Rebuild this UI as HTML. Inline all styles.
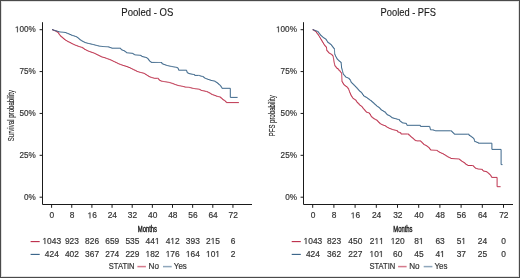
<!DOCTYPE html>
<html><head><meta charset="utf-8"><style>
html,body{margin:0;padding:0;background:#fff;}
body{width:520px;height:278px;overflow:hidden;}
svg{display:block;will-change:transform;}
text{font-family:"Liberation Sans",sans-serif;}
.t{font-size:8.4px;fill:#333333;stroke:#333333;stroke-width:0.18px;}
.ti{font-size:10.2px;fill:#1a1a1a;stroke:#1a1a1a;stroke-width:0.12px;}
.c{font-size:8.2px;fill:#1a1a1a;stroke:#1a1a1a;stroke-width:0.12px;}
</style></head><body>
<svg width="520" height="278" viewBox="0 0 520 278" xmlns="http://www.w3.org/2000/svg">
<rect x="0" y="0" width="520" height="278" fill="#fff"/>
<rect x="1.5" y="1.5" width="517" height="275" fill="none" stroke="#e2e2e2" stroke-width="1"/>
<rect x="0.5" y="0.5" width="519" height="277" fill="none" stroke="#4a4a4a" stroke-width="1"/>
<path d="M42.5,22.2V204.5H252" fill="none" stroke="#1a1a1a" stroke-width="1.0"/>
<line x1="39.6" y1="197.20" x2="42.5" y2="197.20" stroke="#1a1a1a" stroke-width="1.0"/>
<text transform="translate(35.80,199.70) scale(0.97,1)" text-anchor="end" class="t" style="font-size:8.4px" >0%</text>
<line x1="39.6" y1="155.32" x2="42.5" y2="155.32" stroke="#1a1a1a" stroke-width="1.0"/>
<text transform="translate(35.80,157.82) scale(0.97,1)" text-anchor="end" class="t" style="font-size:8.4px" >25%</text>
<line x1="39.6" y1="113.45" x2="42.5" y2="113.45" stroke="#1a1a1a" stroke-width="1.0"/>
<text transform="translate(35.80,115.95) scale(0.97,1)" text-anchor="end" class="t" style="font-size:8.4px" >50%</text>
<line x1="39.6" y1="71.57" x2="42.5" y2="71.57" stroke="#1a1a1a" stroke-width="1.0"/>
<text transform="translate(35.80,74.07) scale(0.97,1)" text-anchor="end" class="t" style="font-size:8.4px" >75%</text>
<line x1="39.6" y1="29.70" x2="42.5" y2="29.70" stroke="#1a1a1a" stroke-width="1.0"/>
<text transform="translate(14.96,32.20) scale(0.97,1)" text-anchor="start" class="t" style="font-size:8.4px" > 00%</text><path d="M515,0L696,0L696,1409L530,1409L197,1180L197,1010L515,1237Z" transform="translate(14.96,32.20) scale(0.00398,-0.00410)" fill="#333333" stroke="#333333" stroke-width="0.18" vector-effect="non-scaling-stroke"/>
<line x1="51.60" y1="204.5" x2="51.60" y2="207.8" stroke="#1a1a1a" stroke-width="1.0"/>
<text transform="translate(51.90,218.30) scale(1.0,1)" text-anchor="middle" class="t" style="font-size:8.4px" >0</text>
<line x1="71.75" y1="204.5" x2="71.75" y2="207.8" stroke="#1a1a1a" stroke-width="1.0"/>
<text transform="translate(72.05,218.30) scale(1.0,1)" text-anchor="middle" class="t" style="font-size:8.4px" >8</text>
<line x1="91.90" y1="204.5" x2="91.90" y2="207.8" stroke="#1a1a1a" stroke-width="1.0"/>
<text transform="translate(87.53,218.30) scale(1.0,1)" text-anchor="start" class="t" style="font-size:8.4px" > 6</text><path d="M515,0L696,0L696,1409L530,1409L197,1180L197,1010L515,1237Z" transform="translate(87.53,218.30) scale(0.00410,-0.00410)" fill="#333333" stroke="#333333" stroke-width="0.18" vector-effect="non-scaling-stroke"/>
<line x1="112.05" y1="204.5" x2="112.05" y2="207.8" stroke="#1a1a1a" stroke-width="1.0"/>
<text transform="translate(112.35,218.30) scale(1.0,1)" text-anchor="middle" class="t" style="font-size:8.4px" >24</text>
<line x1="132.20" y1="204.5" x2="132.20" y2="207.8" stroke="#1a1a1a" stroke-width="1.0"/>
<text transform="translate(132.50,218.30) scale(1.0,1)" text-anchor="middle" class="t" style="font-size:8.4px" >32</text>
<line x1="152.35" y1="204.5" x2="152.35" y2="207.8" stroke="#1a1a1a" stroke-width="1.0"/>
<text transform="translate(152.65,218.30) scale(1.0,1)" text-anchor="middle" class="t" style="font-size:8.4px" >40</text>
<line x1="172.50" y1="204.5" x2="172.50" y2="207.8" stroke="#1a1a1a" stroke-width="1.0"/>
<text transform="translate(172.80,218.30) scale(1.0,1)" text-anchor="middle" class="t" style="font-size:8.4px" >48</text>
<line x1="192.65" y1="204.5" x2="192.65" y2="207.8" stroke="#1a1a1a" stroke-width="1.0"/>
<text transform="translate(192.95,218.30) scale(1.0,1)" text-anchor="middle" class="t" style="font-size:8.4px" >56</text>
<line x1="212.80" y1="204.5" x2="212.80" y2="207.8" stroke="#1a1a1a" stroke-width="1.0"/>
<text transform="translate(213.10,218.30) scale(1.0,1)" text-anchor="middle" class="t" style="font-size:8.4px" >64</text>
<line x1="232.95" y1="204.5" x2="232.95" y2="207.8" stroke="#1a1a1a" stroke-width="1.0"/>
<text transform="translate(233.25,218.30) scale(1.0,1)" text-anchor="middle" class="t" style="font-size:8.4px" >72</text>
<text transform="translate(147.30,16.40) scale(0.9546484610309514,1)" text-anchor="middle" class="ti" style="font-size:10.0px" >Pooled - OS</text>
<text x="147.4" y="231.6" text-anchor="middle" class="c" style="font-size:8.6px;stroke-width:0.4px" textLength="19.3" lengthAdjust="spacingAndGlyphs">Months</text>
<text transform="translate(13.9,115.6) rotate(-90)" x="0" y="0" text-anchor="middle" class="c" textLength="51.4" lengthAdjust="spacingAndGlyphs">Survival probability</text>
<path d="M52.00,29.70H52.88V30.07H53.75V30.45H54.62V30.82H55.50V31.20H56.75V32.05H58.00V32.90H58.65V33.77H59.30V34.65H59.95V35.52H60.60V36.40H61.77V37.40H62.93V38.40H64.10V39.40H64.97V39.95H65.85V40.50H66.72V41.05H67.60V41.60H68.73V42.17H69.87V42.73H71.00V43.30H71.88V43.72H72.75V44.15H73.62V44.58H74.50V45.00H75.63V45.43H76.77V45.87H77.90V46.30H78.80V46.57H79.70V46.85H80.60V47.12H81.50V47.40H82.75V48.25H84.00V49.10H84.88V49.55H85.75V50.00H86.62V50.45H87.50V50.90H88.38V51.23H89.25V51.55H90.12V51.88H91.00V52.20H92.13V52.60H93.27V53.00H94.40V53.40H95.28V53.85H96.15V54.30H97.03V54.75H97.90V55.20H99.03V55.77H100.17V56.33H101.30V56.90H102.20V57.13H103.10V57.37H104.00V57.60H104.88V57.92H105.75V58.25H106.62V58.58H107.50V58.90H108.63V59.33H109.77V59.77H110.90V60.20H111.78V60.62H112.65V61.05H113.53V61.48H114.40V61.90H115.53V62.47H116.67V63.03H117.80V63.60H118.67V63.93H119.55V64.25H120.42V64.58H121.30V64.90H122.17V65.20H123.03V65.50H123.90V65.80H124.95V66.10H126.00V66.40H127.00V66.80H128.00V67.20H129.00V67.60H130.00V68.00H130.88V68.45H131.75V68.90H132.62V69.35H133.50V69.80H134.63V70.37H135.77V70.93H136.90V71.50H137.78V71.75H138.65V72.00H139.53V72.25H140.40V72.50H141.53V72.80H142.67V73.10H143.80V73.40H144.67V73.93H145.53V74.47H146.40V75.00H147.27V75.57H148.13V76.13H149.00V76.70H149.87V77.00H150.73V77.30H151.60V77.60H152.47V77.83H153.33V78.07H154.20V78.30H157.50H158.35V79.25H159.20V80.20H160.05V80.65H160.90V81.10H161.78V81.25H162.65V81.40H163.53V81.55H164.40V81.70H165.47V81.88H166.55V82.05H167.62V82.23H168.70V82.40H169.57V82.67H170.43V82.93H171.30V83.20H172.43V83.63H173.57V84.07H174.70V84.50H175.57V84.78H176.45V85.05H177.32V85.32H178.20V85.60H179.30V85.80H180.40V86.00H181.50V86.20H182.63V86.50H183.77V86.80H184.90V87.10H185.78V87.15H186.65V87.20H187.53V87.25H188.40V87.30H189.53V87.60H190.67V87.90H191.80V88.20H192.68V88.35H193.55V88.50H194.43V88.65H195.30V88.80H196.43V88.93H197.57V89.07H198.70V89.20H199.57V89.63H200.43V90.07H201.30V90.50H202.17V90.67H203.03V90.83H203.90V91.00H205.15V91.30H206.40V91.60H207.53V92.17H208.67V92.73H209.80V93.30H210.65V93.85H211.50V94.40H212.62V94.83H213.75V95.25H214.88V95.67H216.00V96.10H216.88V96.32H217.75V96.55H218.62V96.78H219.50V97.00H220.75V98.05H222.00V99.10H222.87V99.70H223.73V100.30H224.60V100.90H225.50V101.75H226.40V102.60H238.90" fill="none" stroke="#bb2946" stroke-width="0.95" stroke-linejoin="miter"/>
<path d="M52.00,29.70H52.88V29.98H53.75V30.25H54.62V30.52H55.50V30.80H56.63V31.17H57.77V31.53H58.90V31.90H59.77V31.98H60.65V32.05H61.52V32.12H62.40V32.20H63.27V32.30H64.13V32.40H65.00V32.50H65.87V32.87H66.73V33.23H67.60V33.60H68.73V34.10H69.87V34.60H71.00V35.10H71.87V35.37H72.73V35.63H73.60V35.90H74.47V36.20H75.33V36.50H76.20V36.80H77.05V37.45H77.90V38.10H78.80V38.90H79.70V39.70H80.57V40.23H81.43V40.77H82.30V41.30H83.17V41.73H84.03V42.17H84.90V42.60H85.77V42.83H86.63V43.07H87.50V43.30H88.37V43.50H89.23V43.70H90.10V43.90H90.97V44.10H91.83V44.30H92.70V44.50H93.57V44.73H94.43V44.97H95.30V45.20H96.43V45.50H97.57V45.80H98.70V46.10H99.58V46.20H100.45V46.30H101.33V46.40H102.20V46.50H103.26V46.56H104.32V46.62H105.38V46.68H106.44V46.74H107.50V46.80H108.75V47.20H110.00V47.60H110.90V47.90H111.80V48.20H120.00H120.65V49.00H121.30V49.80H122.17V50.13H123.03V50.47H123.90V50.80H124.77V51.47H125.63V52.13H126.50V52.80H127.42V52.88H128.33V52.97H129.25V53.05H130.17V53.13H131.08V53.22H132.00V53.30H132.87V53.83H133.73V54.37H134.60V54.90H135.64V54.98H136.68V55.06H137.72V55.14H138.76V55.22H139.80V55.30H140.90V55.95H142.00V56.60H142.97V56.83H143.95V57.05H144.93V57.27H145.90V57.50H146.75V58.15H147.60V58.80H148.45V59.90H149.30V61.00H150.20V61.70H151.10V62.40H152.05V62.41H153.00V62.42H153.95V62.43H154.90V62.44H155.85V62.45H156.80V62.46H157.75V62.47H158.70V62.48H159.65V62.49H160.60V62.50H161.90V63.80H163.00V64.20H164.10V64.60H164.97V64.90H165.83V65.20H166.70V65.50H167.57V65.70H168.43V65.90H169.30V66.10H170.43V66.33H171.57V66.57H172.70V66.80H173.57V66.93H174.43V67.07H175.30V67.20H176.50V67.60H177.70V68.00H178.15V69.10H178.60V70.20H186.40H186.67V71.07H186.93V71.93H187.20V72.80H188.10V73.25H189.00V73.70H190.07V73.90H191.15V74.10H192.23V74.30H193.30V74.50H194.60V75.40H198.50H199.35V75.70H200.20V76.00H201.35V76.30H202.50V76.60H203.55V77.40H204.60V78.20H205.47V78.53H206.35V78.85H207.22V79.17H208.10V79.50H209.10V79.83H210.10V80.17H211.10V80.50H212.13V80.70H213.17V80.90H214.20V81.10H215.25V81.80H216.30V82.50H217.40V83.40H218.50V84.30H219.35V84.95H220.20V85.60H220.77V86.50H221.33V87.40H221.90V88.30H230.30V97.40H237.60" fill="none" stroke="#335f85" stroke-width="0.95" stroke-linejoin="miter"/>
<line x1="30.60" y1="241.6" x2="39.70" y2="241.6" stroke="#bb2946" stroke-width="1.1"/>
<line x1="30.60" y1="254.4" x2="39.70" y2="254.4" stroke="#335f85" stroke-width="1.1"/>
<text transform="translate(42.46,243.90) scale(1.0,1)" text-anchor="start" class="t" style="font-size:8.4px" > 043</text><path d="M515,0L696,0L696,1409L530,1409L197,1180L197,1010L515,1237Z" transform="translate(42.46,243.90) scale(0.00410,-0.00410)" fill="#333333" stroke="#333333" stroke-width="0.18" vector-effect="non-scaling-stroke"/>
<text transform="translate(51.80,256.90) scale(1.0,1)" text-anchor="middle" class="t" style="font-size:8.4px" >424</text>
<text transform="translate(71.95,243.90) scale(1.0,1)" text-anchor="middle" class="t" style="font-size:8.4px" >923</text>
<text transform="translate(71.95,256.90) scale(1.0,1)" text-anchor="middle" class="t" style="font-size:8.4px" >402</text>
<text transform="translate(92.10,243.90) scale(1.0,1)" text-anchor="middle" class="t" style="font-size:8.4px" >826</text>
<text transform="translate(92.10,256.90) scale(1.0,1)" text-anchor="middle" class="t" style="font-size:8.4px" >367</text>
<text transform="translate(112.25,243.90) scale(1.0,1)" text-anchor="middle" class="t" style="font-size:8.4px" >659</text>
<text transform="translate(112.25,256.90) scale(1.0,1)" text-anchor="middle" class="t" style="font-size:8.4px" >274</text>
<text transform="translate(132.40,243.90) scale(1.0,1)" text-anchor="middle" class="t" style="font-size:8.4px" >535</text>
<text transform="translate(132.40,256.90) scale(1.0,1)" text-anchor="middle" class="t" style="font-size:8.4px" >229</text>
<text transform="translate(145.54,243.90) scale(1.0,1)" text-anchor="start" class="t" style="font-size:8.4px" >44 </text><path d="M515,0L696,0L696,1409L530,1409L197,1180L197,1010L515,1237Z" transform="translate(154.89,243.90) scale(0.00410,-0.00410)" fill="#333333" stroke="#333333" stroke-width="0.18" vector-effect="non-scaling-stroke"/>
<text transform="translate(145.54,256.90) scale(1.0,1)" text-anchor="start" class="t" style="font-size:8.4px" > 82</text><path d="M515,0L696,0L696,1409L530,1409L197,1180L197,1010L515,1237Z" transform="translate(145.54,256.90) scale(0.00410,-0.00410)" fill="#333333" stroke="#333333" stroke-width="0.18" vector-effect="non-scaling-stroke"/>
<text transform="translate(165.69,243.90) scale(1.0,1)" text-anchor="start" class="t" style="font-size:8.4px" >4 2</text><path d="M515,0L696,0L696,1409L530,1409L197,1180L197,1010L515,1237Z" transform="translate(170.36,243.90) scale(0.00410,-0.00410)" fill="#333333" stroke="#333333" stroke-width="0.18" vector-effect="non-scaling-stroke"/>
<text transform="translate(165.69,256.90) scale(1.0,1)" text-anchor="start" class="t" style="font-size:8.4px" > 76</text><path d="M515,0L696,0L696,1409L530,1409L197,1180L197,1010L515,1237Z" transform="translate(165.69,256.90) scale(0.00410,-0.00410)" fill="#333333" stroke="#333333" stroke-width="0.18" vector-effect="non-scaling-stroke"/>
<text transform="translate(192.85,243.90) scale(1.0,1)" text-anchor="middle" class="t" style="font-size:8.4px" >393</text>
<text transform="translate(185.84,256.90) scale(1.0,1)" text-anchor="start" class="t" style="font-size:8.4px" > 64</text><path d="M515,0L696,0L696,1409L530,1409L197,1180L197,1010L515,1237Z" transform="translate(185.84,256.90) scale(0.00410,-0.00410)" fill="#333333" stroke="#333333" stroke-width="0.18" vector-effect="non-scaling-stroke"/>
<text transform="translate(205.99,243.90) scale(1.0,1)" text-anchor="start" class="t" style="font-size:8.4px" >2 5</text><path d="M515,0L696,0L696,1409L530,1409L197,1180L197,1010L515,1237Z" transform="translate(210.66,243.90) scale(0.00410,-0.00410)" fill="#333333" stroke="#333333" stroke-width="0.18" vector-effect="non-scaling-stroke"/>
<text transform="translate(205.99,256.90) scale(1.0,1)" text-anchor="start" class="t" style="font-size:8.4px" > 0 </text><path d="M515,0L696,0L696,1409L530,1409L197,1180L197,1010L515,1237Z" transform="translate(205.99,256.90) scale(0.00410,-0.00410)" fill="#333333" stroke="#333333" stroke-width="0.18" vector-effect="non-scaling-stroke"/><path d="M515,0L696,0L696,1409L530,1409L197,1180L197,1010L515,1237Z" transform="translate(215.34,256.90) scale(0.00410,-0.00410)" fill="#333333" stroke="#333333" stroke-width="0.18" vector-effect="non-scaling-stroke"/>
<text transform="translate(233.15,243.90) scale(1.0,1)" text-anchor="middle" class="t" style="font-size:8.4px" >6</text>
<text transform="translate(233.15,256.90) scale(1.0,1)" text-anchor="middle" class="t" style="font-size:8.4px" >2</text>
<text x="108.80" y="269" class="t" style="font-size:8.2px" textLength="25.8" lengthAdjust="spacingAndGlyphs">STATIN</text>
<line x1="137.40" y1="266.6" x2="145.90" y2="266.6" stroke="#bb2946" stroke-width="1.5" stroke-opacity="0.62"/>
<text transform="translate(148.50,269.00) scale(0.97,1)" text-anchor="start" class="t" style="font-size:8.4px" >No</text>
<line x1="163.00" y1="266.6" x2="171.70" y2="266.6" stroke="#335f85" stroke-width="1.5" stroke-opacity="0.55"/>
<text transform="translate(173.80,269.00) scale(0.95,1)" text-anchor="start" class="t" style="font-size:8.4px" >Yes</text>
<path d="M303.5,22.2V204.5H513" fill="none" stroke="#1a1a1a" stroke-width="1.0"/>
<line x1="300.6" y1="197.20" x2="303.5" y2="197.20" stroke="#1a1a1a" stroke-width="1.0"/>
<text transform="translate(296.90,199.70) scale(0.97,1)" text-anchor="end" class="t" style="font-size:8.4px" >0%</text>
<line x1="300.6" y1="155.32" x2="303.5" y2="155.32" stroke="#1a1a1a" stroke-width="1.0"/>
<text transform="translate(296.90,157.82) scale(0.97,1)" text-anchor="end" class="t" style="font-size:8.4px" >25%</text>
<line x1="300.6" y1="113.45" x2="303.5" y2="113.45" stroke="#1a1a1a" stroke-width="1.0"/>
<text transform="translate(296.90,115.95) scale(0.97,1)" text-anchor="end" class="t" style="font-size:8.4px" >50%</text>
<line x1="300.6" y1="71.57" x2="303.5" y2="71.57" stroke="#1a1a1a" stroke-width="1.0"/>
<text transform="translate(296.90,74.07) scale(0.97,1)" text-anchor="end" class="t" style="font-size:8.4px" >75%</text>
<line x1="300.6" y1="29.70" x2="303.5" y2="29.70" stroke="#1a1a1a" stroke-width="1.0"/>
<text transform="translate(276.06,32.20) scale(0.97,1)" text-anchor="start" class="t" style="font-size:8.4px" > 00%</text><path d="M515,0L696,0L696,1409L530,1409L197,1180L197,1010L515,1237Z" transform="translate(276.06,32.20) scale(0.00398,-0.00410)" fill="#333333" stroke="#333333" stroke-width="0.18" vector-effect="non-scaling-stroke"/>
<line x1="312.70" y1="204.5" x2="312.70" y2="207.8" stroke="#1a1a1a" stroke-width="1.0"/>
<text transform="translate(313.00,218.30) scale(1.0,1)" text-anchor="middle" class="t" style="font-size:8.4px" >0</text>
<line x1="333.90" y1="204.5" x2="333.90" y2="207.8" stroke="#1a1a1a" stroke-width="1.0"/>
<text transform="translate(334.20,218.30) scale(1.0,1)" text-anchor="middle" class="t" style="font-size:8.4px" >8</text>
<line x1="355.10" y1="204.5" x2="355.10" y2="207.8" stroke="#1a1a1a" stroke-width="1.0"/>
<text transform="translate(350.73,218.30) scale(1.0,1)" text-anchor="start" class="t" style="font-size:8.4px" > 6</text><path d="M515,0L696,0L696,1409L530,1409L197,1180L197,1010L515,1237Z" transform="translate(350.73,218.30) scale(0.00410,-0.00410)" fill="#333333" stroke="#333333" stroke-width="0.18" vector-effect="non-scaling-stroke"/>
<line x1="376.30" y1="204.5" x2="376.30" y2="207.8" stroke="#1a1a1a" stroke-width="1.0"/>
<text transform="translate(376.60,218.30) scale(1.0,1)" text-anchor="middle" class="t" style="font-size:8.4px" >24</text>
<line x1="397.50" y1="204.5" x2="397.50" y2="207.8" stroke="#1a1a1a" stroke-width="1.0"/>
<text transform="translate(397.80,218.30) scale(1.0,1)" text-anchor="middle" class="t" style="font-size:8.4px" >32</text>
<line x1="418.70" y1="204.5" x2="418.70" y2="207.8" stroke="#1a1a1a" stroke-width="1.0"/>
<text transform="translate(419.00,218.30) scale(1.0,1)" text-anchor="middle" class="t" style="font-size:8.4px" >40</text>
<line x1="439.90" y1="204.5" x2="439.90" y2="207.8" stroke="#1a1a1a" stroke-width="1.0"/>
<text transform="translate(440.20,218.30) scale(1.0,1)" text-anchor="middle" class="t" style="font-size:8.4px" >48</text>
<line x1="461.10" y1="204.5" x2="461.10" y2="207.8" stroke="#1a1a1a" stroke-width="1.0"/>
<text transform="translate(461.40,218.30) scale(1.0,1)" text-anchor="middle" class="t" style="font-size:8.4px" >56</text>
<line x1="482.30" y1="204.5" x2="482.30" y2="207.8" stroke="#1a1a1a" stroke-width="1.0"/>
<text transform="translate(482.60,218.30) scale(1.0,1)" text-anchor="middle" class="t" style="font-size:8.4px" >64</text>
<line x1="503.50" y1="204.5" x2="503.50" y2="207.8" stroke="#1a1a1a" stroke-width="1.0"/>
<text transform="translate(503.80,218.30) scale(1.0,1)" text-anchor="middle" class="t" style="font-size:8.4px" >72</text>
<text transform="translate(408.30,16.40) scale(0.9315572370668137,1)" text-anchor="middle" class="ti" style="font-size:10.0px" >Pooled - PFS</text>
<text x="402.9" y="231.6" text-anchor="middle" class="c" style="font-size:8.6px;stroke-width:0.4px" textLength="19.3" lengthAdjust="spacingAndGlyphs">Months</text>
<text transform="translate(275.4,115.8) rotate(-90)" x="0" y="0" text-anchor="middle" class="c" textLength="41.1" lengthAdjust="spacingAndGlyphs">PFS probability</text>
<path d="M312.60,29.70H313.70V30.47H314.80V31.23H315.90V32.00H316.55V32.88H317.20V33.75H317.85V34.62H318.50V35.50H319.02V36.38H319.55V37.25H320.08V38.12H320.60V39.00H321.18V39.98H321.75V40.95H322.32V41.92H322.90V42.90H323.50V43.87H324.10V44.83H324.70V45.80H325.60V46.85H326.50V47.90H326.60V48.87H326.70V49.83H326.80V50.80H327.70V51.85H328.60V52.90H329.47V53.40H330.33V53.90H331.20V54.40H332.10V55.45H333.00V56.50H333.23V57.60H333.47V58.70H333.70V59.80H333.82V60.67H333.95V61.55H334.07V62.42H334.20V63.30H334.47V64.30H334.73V65.30H335.00V66.30H335.90V67.40H336.80V68.50H338.20V69.80H339.25V70.85H340.30V71.90H340.95V72.80H341.60V73.70H341.65V74.63H341.70V75.57H341.75V76.50H341.80V77.43H341.85V78.37H341.90V79.30H341.93V80.17H341.97V81.03H342.00V81.90H342.63V82.93H343.27V83.97H343.90V85.00H344.90V85.77H345.90V86.53H346.90V87.30H347.75V88.40H348.60V89.50H348.93V90.38H349.25V91.25H349.57V92.12H349.90V93.00H350.33V94.00H350.77V95.00H351.20V96.00H351.80V96.87H352.40V97.73H353.00V98.60H353.87V99.17H354.73V99.73H355.60V100.30H356.30V101.45H357.00V102.60H358.10V103.70H359.20V104.80H360.07V105.50H360.93V106.20H361.80V106.90H362.50V107.77H363.20V108.63H363.90V109.50H364.63V110.37H365.37V111.23H366.10V112.10H366.97V112.40H367.83V112.70H368.70V113.00H369.55V114.05H370.40V115.10H370.85V116.00H371.30V116.90H372.35V117.75H373.40V118.60H374.43V119.17H375.47V119.73H376.50V120.30H377.55V121.40H378.60V122.50H379.70V123.60H380.57V124.03H381.43V124.47H382.30V124.90H383.17V125.20H384.03V125.50H384.90V125.80H385.75V126.45H386.60V127.10H387.47V127.53H388.33V127.97H389.20V128.40H390.07V128.72H390.95V129.05H391.82V129.38H392.70V129.70H393.57V129.90H394.45V130.10H395.32V130.30H396.20V130.50H397.40V131.80H398.50V132.25H399.60V132.70H400.90V134.00H407.50H408.75V135.10H410.00V136.20H410.87V136.90H411.73V137.60H412.60V138.30H413.47V139.07H414.33V139.83H415.20V140.60H416.60V140.90H420.00H420.90V141.75H421.80V142.60H422.65V143.50H423.50V144.40H424.37V144.83H425.23V145.27H426.10V145.70H426.97V146.40H427.83V147.10H428.70V147.80H429.55V148.90H430.40V150.00H431.42V150.07H432.43V150.13H433.45V150.20H434.47V150.27H435.48V150.33H436.50V150.40H437.37V151.00H438.23V151.60H439.10V152.20H439.97V152.60H440.83V153.00H441.70V153.40H442.85V154.00H444.00V154.60H444.88V155.15H445.75V155.70H446.62V156.25H447.50V156.80H448.38V157.23H449.25V157.65H450.12V158.07H451.00V158.50H451.96V158.56H452.93V158.62H453.89V158.69H454.85V158.75H455.81V158.81H456.77V158.88H457.74V158.94H458.70V159.00H459.57V159.70H460.43V160.40H461.30V161.10H462.17V161.63H463.03V162.17H463.90V162.70H464.90V163.65H465.90V164.60H466.95V165.05H468.00V165.50H472.40H473.27V166.37H474.13V167.23H475.00V168.10H475.87V168.40H476.73V168.70H477.60V169.00H478.68V169.10H479.75V169.20H480.82V169.30H481.90V169.40H482.45V170.20H483.00V171.00H484.00V171.20H485.00V171.40H486.00V171.60H486.87V172.27H487.73V172.93H488.60V173.60H489.35V174.35H490.10V175.10H490.85V176.25H491.60V177.40H497.10V186.70H500.60" fill="none" stroke="#bb2946" stroke-width="0.95" stroke-linejoin="miter"/>
<path d="M312.60,29.70H313.60V30.08H314.60V30.46H315.60V30.84H316.60V31.22H317.60V31.60H318.35V32.58H319.10V33.55H319.85V34.52H320.60V35.50H321.47V36.23H322.33V36.97H323.20V37.70H324.07V38.27H324.93V38.83H325.80V39.40H326.40V40.40H327.00V41.40H327.60V42.40H328.73V43.27H329.87V44.13H331.00V45.00H331.80V46.10H332.60V47.20H333.50V48.30H334.40V49.40H334.46V50.40H334.52V51.40H334.58V52.40H334.64V53.40H334.70V54.40H335.10V55.33H335.50V56.27H335.90V57.20H336.55V58.30H337.20V59.40H338.05V60.25H338.90V61.10H340.00V62.00H341.10V62.90H341.20V63.92H341.30V64.94H341.40V65.96H341.50V66.98H341.60V68.00H341.83V68.88H342.05V69.75H342.27V70.62H342.50V71.50H342.77V72.50H343.03V73.50H343.30V74.50H344.03V75.37H344.77V76.23H345.50V77.10H346.50V77.53H347.50V77.97H348.50V78.40H349.40V79.50H350.30V80.60H350.75V81.60H351.20V82.60H352.07V83.47H352.93V84.33H353.80V85.20H354.67V86.07H355.53V86.93H356.40V87.80H357.27V88.80H358.13V89.80H359.00V90.80H359.87V91.53H360.73V92.27H361.60V93.00H362.23V94.00H362.87V95.00H363.50V96.00H364.63V96.67H365.77V97.33H366.90V98.00H367.77V98.65H368.65V99.30H369.52V99.95H370.40V100.60H371.53V101.60H372.67V102.60H373.80V103.60H374.70V104.40H375.60V105.20H376.50V106.00H377.37V106.60H378.23V107.20H379.10V107.80H379.95V108.80H380.80V109.80H381.87V110.47H382.93V111.13H384.00V111.80H385.30V112.80H386.15V113.80H387.00V114.80H388.10V115.25H389.20V115.70H390.07V116.40H390.93V117.10H391.80V117.80H392.93V118.10H394.07V118.40H395.20V118.70H396.23V119.00H397.27V119.30H398.30V119.60H399.60V120.90H400.47V121.57H401.33V122.23H402.20V122.90H403.15V123.03H404.10V123.15H405.05V123.28H406.00V123.40H406.45V124.35H406.90V125.30H420.00H420.40V126.40H429.50H429.80V127.53H430.10V128.67H430.40V129.80H431.50V129.85H432.60V129.90H433.47V130.20H434.33V130.50H435.20V130.80H450.70H451.60V131.65H452.50V132.50H453.35V133.35H454.20V134.20H467.80H469.10V135.50H470.20V136.15H471.30V136.80H472.17V137.53H473.03V138.27H473.90V139.00H474.17V139.87H474.43V140.73H474.70V141.60H475.80V142.00H476.90V142.40H478.20V143.20H491.90V149.40H501.10V164.60H502.50" fill="none" stroke="#335f85" stroke-width="0.95" stroke-linejoin="miter"/>
<line x1="291.70" y1="241.6" x2="300.80" y2="241.6" stroke="#bb2946" stroke-width="1.1"/>
<line x1="291.70" y1="254.4" x2="300.80" y2="254.4" stroke="#335f85" stroke-width="1.1"/>
<text transform="translate(303.56,243.90) scale(1.0,1)" text-anchor="start" class="t" style="font-size:8.4px" > 043</text><path d="M515,0L696,0L696,1409L530,1409L197,1180L197,1010L515,1237Z" transform="translate(303.56,243.90) scale(0.00410,-0.00410)" fill="#333333" stroke="#333333" stroke-width="0.18" vector-effect="non-scaling-stroke"/>
<text transform="translate(312.90,256.90) scale(1.0,1)" text-anchor="middle" class="t" style="font-size:8.4px" >424</text>
<text transform="translate(334.10,243.90) scale(1.0,1)" text-anchor="middle" class="t" style="font-size:8.4px" >823</text>
<text transform="translate(334.10,256.90) scale(1.0,1)" text-anchor="middle" class="t" style="font-size:8.4px" >362</text>
<text transform="translate(355.30,243.90) scale(1.0,1)" text-anchor="middle" class="t" style="font-size:8.4px" >450</text>
<text transform="translate(355.30,256.90) scale(1.0,1)" text-anchor="middle" class="t" style="font-size:8.4px" >227</text>
<text transform="translate(369.80,243.90) scale(1.0,1)" text-anchor="start" class="t" style="font-size:8.4px" >2  </text><path d="M515,0L696,0L696,1409L530,1409L197,1180L197,1010L515,1237Z" transform="translate(374.48,243.90) scale(0.00410,-0.00410)" fill="#333333" stroke="#333333" stroke-width="0.18" vector-effect="non-scaling-stroke"/><path d="M515,0L696,0L696,1409L530,1409L197,1180L197,1010L515,1237Z" transform="translate(379.15,243.90) scale(0.00410,-0.00410)" fill="#333333" stroke="#333333" stroke-width="0.18" vector-effect="non-scaling-stroke"/>
<text transform="translate(369.49,256.90) scale(1.0,1)" text-anchor="start" class="t" style="font-size:8.4px" > 0 </text><path d="M515,0L696,0L696,1409L530,1409L197,1180L197,1010L515,1237Z" transform="translate(369.49,256.90) scale(0.00410,-0.00410)" fill="#333333" stroke="#333333" stroke-width="0.18" vector-effect="non-scaling-stroke"/><path d="M515,0L696,0L696,1409L530,1409L197,1180L197,1010L515,1237Z" transform="translate(378.84,256.90) scale(0.00410,-0.00410)" fill="#333333" stroke="#333333" stroke-width="0.18" vector-effect="non-scaling-stroke"/>
<text transform="translate(390.69,243.90) scale(1.0,1)" text-anchor="start" class="t" style="font-size:8.4px" > 20</text><path d="M515,0L696,0L696,1409L530,1409L197,1180L197,1010L515,1237Z" transform="translate(390.69,243.90) scale(0.00410,-0.00410)" fill="#333333" stroke="#333333" stroke-width="0.18" vector-effect="non-scaling-stroke"/>
<text transform="translate(397.70,256.90) scale(1.0,1)" text-anchor="middle" class="t" style="font-size:8.4px" >60</text>
<text transform="translate(414.23,243.90) scale(1.0,1)" text-anchor="start" class="t" style="font-size:8.4px" >8 </text><path d="M515,0L696,0L696,1409L530,1409L197,1180L197,1010L515,1237Z" transform="translate(418.90,243.90) scale(0.00410,-0.00410)" fill="#333333" stroke="#333333" stroke-width="0.18" vector-effect="non-scaling-stroke"/>
<text transform="translate(418.90,256.90) scale(1.0,1)" text-anchor="middle" class="t" style="font-size:8.4px" >45</text>
<text transform="translate(440.10,243.90) scale(1.0,1)" text-anchor="middle" class="t" style="font-size:8.4px" >63</text>
<text transform="translate(435.43,256.90) scale(1.0,1)" text-anchor="start" class="t" style="font-size:8.4px" >4 </text><path d="M515,0L696,0L696,1409L530,1409L197,1180L197,1010L515,1237Z" transform="translate(440.10,256.90) scale(0.00410,-0.00410)" fill="#333333" stroke="#333333" stroke-width="0.18" vector-effect="non-scaling-stroke"/>
<text transform="translate(456.63,243.90) scale(1.0,1)" text-anchor="start" class="t" style="font-size:8.4px" >5 </text><path d="M515,0L696,0L696,1409L530,1409L197,1180L197,1010L515,1237Z" transform="translate(461.30,243.90) scale(0.00410,-0.00410)" fill="#333333" stroke="#333333" stroke-width="0.18" vector-effect="non-scaling-stroke"/>
<text transform="translate(461.30,256.90) scale(1.0,1)" text-anchor="middle" class="t" style="font-size:8.4px" >37</text>
<text transform="translate(482.50,243.90) scale(1.0,1)" text-anchor="middle" class="t" style="font-size:8.4px" >24</text>
<text transform="translate(482.50,256.90) scale(1.0,1)" text-anchor="middle" class="t" style="font-size:8.4px" >25</text>
<text transform="translate(503.70,243.90) scale(1.0,1)" text-anchor="middle" class="t" style="font-size:8.4px" >0</text>
<text transform="translate(503.70,256.90) scale(1.0,1)" text-anchor="middle" class="t" style="font-size:8.4px" >0</text>
<text x="369.50" y="269" class="t" style="font-size:8.2px" textLength="25.8" lengthAdjust="spacingAndGlyphs">STATIN</text>
<line x1="398.10" y1="266.6" x2="406.60" y2="266.6" stroke="#bb2946" stroke-width="1.5" stroke-opacity="0.62"/>
<text transform="translate(409.20,269.00) scale(0.97,1)" text-anchor="start" class="t" style="font-size:8.4px" >No</text>
<line x1="423.70" y1="266.6" x2="432.40" y2="266.6" stroke="#335f85" stroke-width="1.5" stroke-opacity="0.55"/>
<text transform="translate(434.50,269.00) scale(0.95,1)" text-anchor="start" class="t" style="font-size:8.4px" >Yes</text>
</svg>
</body></html>
